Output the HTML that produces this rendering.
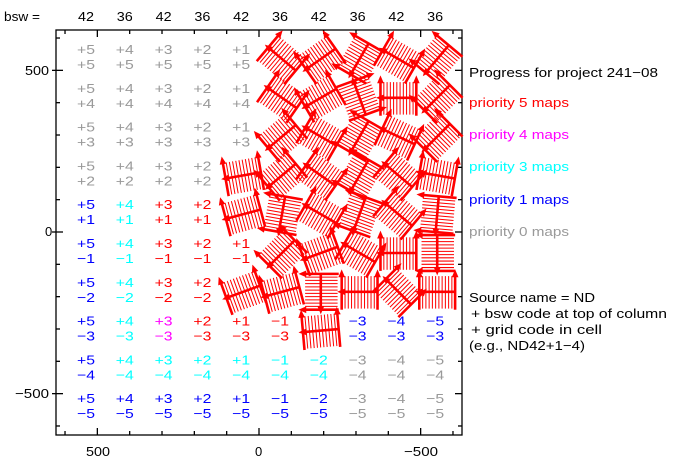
<!DOCTYPE html>
<html><head><meta charset="utf-8"><style>
html,body{margin:0;padding:0;background:#fff;}
svg{display:block;font-family:"Liberation Sans",sans-serif;}
</style></head><body>
<svg id="s" width="693" height="467" viewBox="0 0 693 467" xmlns="http://www.w3.org/2000/svg">
<rect width="693" height="467" fill="#fff"/>
<g font-size="13" fill="#000">
<text x="4" y="21" textLength="36" lengthAdjust="spacingAndGlyphs">bsw =</text>
<text x="469" y="77" textLength="189" lengthAdjust="spacingAndGlyphs">Progress for project 241−08</text>
<text x="469" y="107" fill="#ff0000" textLength="100" lengthAdjust="spacingAndGlyphs">priority 5 maps</text>
<text x="469" y="139" fill="#ff00ff" textLength="100" lengthAdjust="spacingAndGlyphs">priority 4 maps</text>
<text x="469" y="171" fill="#00ffff" textLength="100" lengthAdjust="spacingAndGlyphs">priority 3 maps</text>
<text x="469" y="204" fill="#0000ff" textLength="100" lengthAdjust="spacingAndGlyphs">priority 1 maps</text>
<text x="469" y="236" fill="#999999" textLength="100" lengthAdjust="spacingAndGlyphs">priority 0 maps</text>
<text x="469" y="302" textLength="126" lengthAdjust="spacingAndGlyphs">Source name = ND</text>
<text x="471" y="318" textLength="196" lengthAdjust="spacingAndGlyphs">+ bsw code at top of column</text>
<text x="471" y="334" textLength="131" lengthAdjust="spacingAndGlyphs">+ grid code in cell</text>
<text x="469" y="350" textLength="116" lengthAdjust="spacingAndGlyphs">(e.g., ND42+1−4)</text>
<text x="25" y="75" textLength="24" lengthAdjust="spacingAndGlyphs">500</text>
<text x="45" y="236">0</text>
<text x="15" y="398" textLength="34" lengthAdjust="spacingAndGlyphs">−500</text>
<text x="86" y="456" textLength="24" lengthAdjust="spacingAndGlyphs">500</text>
<text x="255" y="456">0</text>
<text x="404" y="456" textLength="34" lengthAdjust="spacingAndGlyphs">−500</text>
</g>
<g id="ax" stroke="#000" stroke-width="1.3" fill="none"></g>
<g id="tx" font-size="13"></g>
<g id="gl" stroke="#ff0000" fill="#ff0000"></g>
</svg>
<script>
var NS="http://www.w3.org/2000/svg";
function el(p,t,a,txt){var e=document.createElementNS(NS,t);for(var k in a)e.setAttribute(k,a[k]);if(txt!=null)e.textContent=txt;document.getElementById(p).appendChild(e);return e;}
var L=56,R=462,T=30,B=435;
el("ax","rect",{x:L,y:T,width:R-L,height:B-T});
function X(u){return 259-u*0.3233;}function Y(u){return 232-u*0.3233;}
for(var u=-600;u<=600;u+=100){
 var big=(u%500==0), len=big?7:4;
 var x=X(u); if(x>L+1&&x<R-1){el("ax","line",{x1:x,y1:B,x2:x,y2:B-len});el("ax","line",{x1:x,y1:T,x2:x,y2:T+len});}
 var y=Y(u); if(y>T+1&&y<B-1){el("ax","line",{x1:L,y1:y,x2:L+len,y2:y});el("ax","line",{x1:R,y1:y,x2:R-len,y2:y});el("ax","line",{x1:L-4,y1:y,x2:L,y2:y,"stroke-width":big?1.3:0});}
}
var colLab=["+5","+4","+3","+2","+1","−1","−2","−3","−4","−5"];
var bsw=["42","36","42","36","42","36","42","36","42","36"];
function cx(i){return 86+38.8*i;} function cy(j){return 57+38.8*j;}
for(var i=0;i<10;i++) el("tx","text",{x:cx(i)-8,y:21,fill:"#000",textLength:16,lengthAdjust:"spacingAndGlyphs"},bsw[i]);
var G="#999999",Bl="#0000ff",C="#00ffff",Rd="#ff0000",M="#ff00ff";
var rows=[
 [G,G,G,G,G,0,0,0,0,0],
 [G,G,G,G,G,0,0,0,0,0],
 [G,G,G,G,G,0,0,0,0,0],
 [G,G,G,G,0,0,0,0,0,0],
 [Bl,C,Rd,Rd,0,0,0,0,0,0],
 [Bl,C,Rd,Rd,Rd,0,0,0,0,0],
 [Bl,C,Rd,Rd,0,0,0,0,0,0],
 [Bl,C,M,Rd,Rd,Rd,0,Bl,Bl,Bl],
 [Bl,C,C,C,C,C,C,G,G,G],
 [Bl,Bl,Bl,Bl,Bl,Bl,Bl,G,G,G]];
var angles=[
 [40,-35,-60,30,-50],
 [35,-30,70,0,-45],
 [-40,30,-60,25,-45],
 [-10,-40,35,-60,40,10],
 [-15,-80,30,-70,40,-85],
 [-45,-20,30,0,-90],
 [-20,-15,-90,0,45,0],
 [-5]];
for(var j=0;j<10;j++){var gi=0;for(var i=0;i<10;i++){var c=rows[j][i];
 if(c){el("tx","text",{x:cx(i)-9,y:cy(j)-3,fill:c,textLength:18,lengthAdjust:"spacingAndGlyphs"},colLab[i]);
       el("tx","text",{x:cx(i)-9,y:cy(j)+12,fill:c,textLength:18,lengthAdjust:"spacingAndGlyphs"},colLab[j]);}
 else{var a=(angles[j]&&angles[j][gi]!=null)?angles[j][gi]:0;gi++;glyph(cx(i)+2,cy(j)+2,a);}
}}
function glyph(x,y,a){
 var g=document.createElementNS(NS,"g");g.setAttribute("transform","translate("+x+","+y+") rotate("+a+") scale(1.12)");
 var s="";
 for(var k=0;k<10;k++){var hx=-13+k*2.9;s+='<line x1="'+hx+'" y1="-14" x2="'+hx+'" y2="15" stroke-width="0.9"/>';}
 s+='<line x1="-16" y1="16" x2="-16" y2="-15" stroke-width="2.3"/><line x1="16" y1="16" x2="16" y2="-15" stroke-width="2.3"/>';
 s+='<polygon points="-16,-20 -19,-13 -13,-13" stroke="none"/><polygon points="16,-20 13,-13 19,-13" stroke="none"/>';
 s+='<line x1="16" y1="0" x2="-14" y2="0" stroke-width="2.3"/><polygon points="-20,0 -13,-3 -13,3" stroke="none"/>';
 g.innerHTML=s;document.getElementById("gl").appendChild(g);
}
</script>
</body></html>
